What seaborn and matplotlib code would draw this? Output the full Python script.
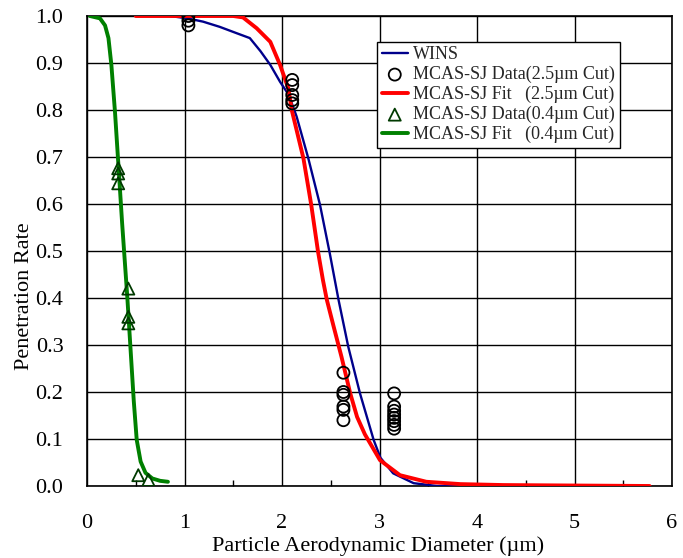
import numpy as np
import pandas as pd
import seaborn as sns
import matplotlib.pyplot as plt

# --- DATA ---
wins_x = [0.85, 1.03, 1.19, 1.36, 1.54, 1.67, 1.78, 1.88, 1.98, 2.07, 2.15, 2.27,
          2.39, 2.49, 2.58, 2.68, 2.80, 2.94, 3.01, 3.14, 3.35, 3.59, 4.0]
wins_y = [1.0, 0.995, 0.988, 0.977, 0.963, 0.953, 0.925, 0.896, 0.86, 0.832, 0.786, 0.697,
          0.598, 0.495, 0.396, 0.296, 0.197, 0.098, 0.06, 0.027, 0.006, 0.0, 0.0]

fit25_x = [0.5, 1.0, 1.5, 1.6, 1.74, 1.88, 1.98, 2.065, 2.10, 2.22, 2.30, 2.37, 2.42,
           2.46, 2.53, 2.61, 2.70, 2.77, 2.85, 3.005, 3.21, 3.48, 3.83, 4.27, 5.0, 5.77]
fit25_y = [1.0, 1.0, 1.0, 0.997, 0.974, 0.945, 0.896, 0.846, 0.80, 0.697, 0.598, 0.498, 0.438,
           0.396, 0.339, 0.275, 0.197, 0.147, 0.110, 0.055, 0.023, 0.009, 0.004, 0.002, 0.001, 0.0]

fit04_x = [0.03, 0.133, 0.185, 0.22, 0.25, 0.287, 0.32, 0.36, 0.413, 0.45, 0.48,
           0.51, 0.55, 0.60, 0.67, 0.75, 0.83]
fit04_y = [1.0, 0.995, 0.98, 0.953, 0.896, 0.796, 0.69, 0.56, 0.403, 0.28, 0.18,
           0.098, 0.052, 0.028, 0.016, 0.011, 0.009]

data25_x = [1.04, 1.04, 1.04,
            2.105, 2.105, 2.105, 2.105, 2.105,
            2.63, 2.63, 2.63, 2.63, 2.63, 2.63,
            3.15, 3.15, 3.15, 3.15, 3.15, 3.15, 3.15, 3.15]
data25_y = [1.0, 0.99, 0.98,
            0.864, 0.853, 0.832, 0.821, 0.814,
            0.241, 0.20, 0.194, 0.169, 0.162, 0.14,
            0.197, 0.169, 0.16, 0.152, 0.145, 0.138, 0.13, 0.122]

data04_x = [0.32, 0.32, 0.32, 0.424, 0.424, 0.424, 0.526, 0.63]
data04_y = [0.676, 0.665, 0.644, 0.42, 0.36, 0.346, 0.023, 0.013]

sns.set_theme(style="white")
plt.rcParams["font.family"] = ["Liberation Serif", "DejaVu Serif"]

fig = plt.figure(figsize=(6.83, 5.58), dpi=100)
ax = fig.add_axes([87 / 683, 1 - 486 / 558, 585 / 683, 470 / 558])

sns.lineplot(x=wins_x, y=wins_y, sort=False, estimator=None, color="#00008B",
             linewidth=1.7, label="WINS", ax=ax, zorder=3)
sns.scatterplot(x=data25_x, y=data25_y, marker="o", s=75, facecolors="none",
                edgecolors="black", linewidths=1.3, label="MCAS-SJ Data(2.5µm Cut)",
                ax=ax, zorder=4)
sns.lineplot(x=fit25_x, y=fit25_y, sort=False, estimator=None, color="#FF0000",
             linewidth=2.8, label="MCAS-SJ Fit   (2.5µm Cut)", ax=ax, zorder=3)
sns.scatterplot(x=data04_x, y=data04_y, marker="^", s=75, facecolors="none",
                edgecolors="#003A00", linewidths=1.3, label="MCAS-SJ Data(0.4µm Cut)",
                ax=ax, zorder=4)
sns.lineplot(x=fit04_x, y=fit04_y, sort=False, estimator=None, color="#008000",
             linewidth=2.8, label="MCAS-SJ Fit   (0.4µm Cut)", ax=ax, zorder=3)

ax.set_xlim(0, 6)
ax.set_ylim(0, 1.0)
ax.set_xticks(range(7))
ax.set_yticks(np.arange(0, 1.01, 0.1))
ax.set_yticklabels([f"{v:.1f}" for v in np.arange(0, 1.01, 0.1)])
ax.set_xticks(np.arange(0.5, 6, 1.0), minor=True)
ax.grid(True, which="major", color="black", linewidth=1.0)
ax.tick_params(axis="y", which="major", length=0, pad=17, labelsize=16, colors="black")
ax.tick_params(axis="x", which="major", length=0, pad=20, labelsize=16, colors="black")
ax.tick_params(axis="x", which="minor", direction="in", length=4, bottom=True, color="black")
for s in ax.spines.values():
    s.set_color("black")
    s.set_linewidth(1.2)

ax.set_xlabel("Particle Aerodynamic Diameter (µm)", fontsize=16, color="black")
ax.set_ylabel("Penetration Rate", fontsize=16, color="black")
ax.xaxis.set_label_coords(0.497, -0.106)
ax.yaxis.set_label_coords(-0.09, 0.404)

leg = ax.legend(loc="upper left", bbox_to_anchor=(0.496, 0.945), fontsize=13,
                frameon=True, fancybox=False, shadow=False, handlelength=1.45,
                handletextpad=0.3, borderpad=0.25, labelspacing=0.15, borderaxespad=0)
leg.get_frame().set_edgecolor("black")
leg.get_frame().set_linewidth(1.0)
leg.get_frame().set_alpha(1)

plt.savefig("out.png", dpi=100, facecolor="white")
plt.close()
